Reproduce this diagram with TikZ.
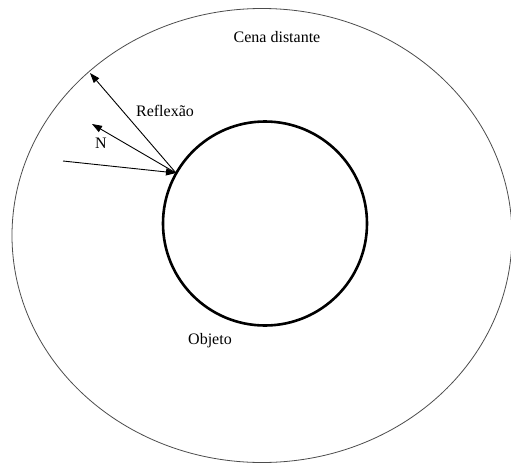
\documentclass[tikz,border=0pt]{standalone}
\usepackage{fontspec}
\setmainfont{Liberation Serif}
\usetikzlibrary{arrows.meta}
\begin{document}
\begin{tikzpicture}[x=1pt,y=-1pt,
  arr/.style={draw, line width=0.9pt, -{Triangle[length=10pt,width=7pt]}},
  lbl/.style={font=\fontsize{16}{19}\selectfont, inner sep=0pt}]
\useasboundingbox (0,0) rectangle (511,463);
\fill[white] (0,0) rectangle (511,463);
% outer scene
\draw[line width=0.8pt, gray!60!black] (262,235.5) ellipse [x radius=250, y radius=227];
% object
\draw[line width=2.6pt] (265,223.5) circle [radius=102];
% points
\coordinate (c) at (176,173);
\coordinate (r) at (90,73);
\coordinate (n) at (92,124);
\coordinate (i) at (63,161);
\draw[arr] (c) -- (r);
\draw[arr] (c) -- (n);
\draw[arr] (i) -- (c);
% labels
\node[lbl] (cena) at (277,37) {Cena distante};
\node[lbl] (refl) at (165,111) {Reflexão};
\node[lbl] (nl) at (101,143) {N};
\node[lbl] (obj) at (210,341) {Objeto};
\end{tikzpicture}
\end{document}
